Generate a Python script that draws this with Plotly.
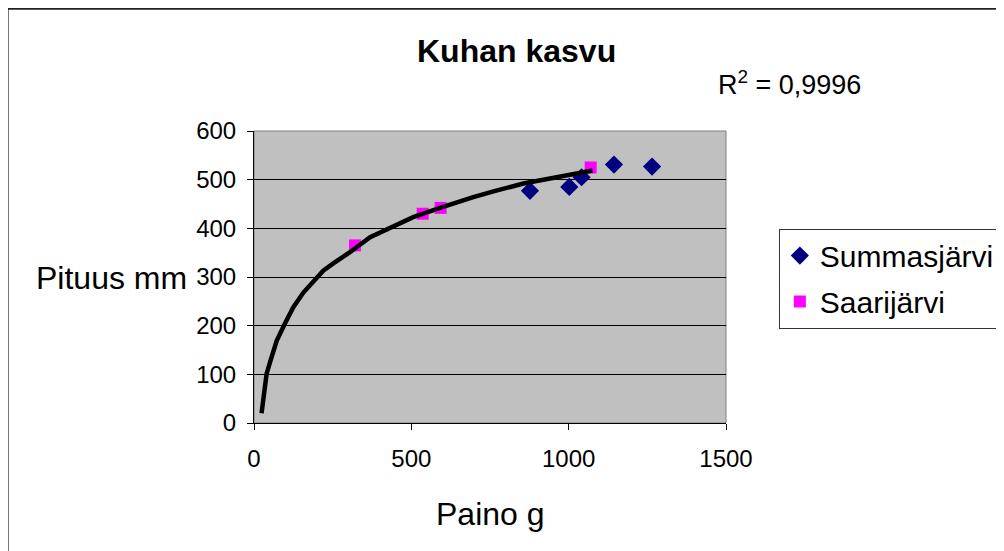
import plotly.graph_objects as go

# Data
summa_x = [877, 1002, 1041, 1144, 1265]
summa_y = [477, 485, 505, 531, 527]
saari_x = [321, 536, 593, 1070]
saari_y = [365, 430, 442, 525]
trend_x = [24, 40, 51, 72, 98, 125, 157, 194, 220, 252, 305, 369, 411, 453, 506, 591, 644, 697, 761, 856, 962, 1076]
trend_y = [20, 101, 125, 169, 204, 238, 268, 293, 313, 328, 351, 382, 394, 407, 423, 442, 454, 464, 476, 492, 505, 519]
x_ticks = [0, 500, 1000, 1500]
y_ticks = [0, 100, 200, 300, 400, 500, 600]

FONT = "Liberation Sans, Arial, sans-serif"

fig = go.Figure()
fig.add_trace(go.Scatter(x=summa_x, y=summa_y, mode="markers", name="Summasjärvi",
                         legendgroup="a",
                         marker=dict(symbol="diamond", size=14, color="#000080")))
fig.add_trace(go.Scatter(x=saari_x, y=saari_y, mode="markers", name="Saarijärvi",
                         legendgroup="b",
                         marker=dict(symbol="square", size=12, color="#FF00FF")))
fig.add_trace(go.Scatter(x=trend_x, y=trend_y, mode="lines", showlegend=False,
                         line=dict(color="black", width=4.5)))

fig.update_layout(
    width=1004, height=551,
    margin=dict(l=246, r=286, t=123, b=136),
    paper_bgcolor="white", plot_bgcolor="#C0C0C0",
    font=dict(family=FONT, color="black", size=24),
    showlegend=True,
    legend=dict(x=1.112, y=0.666, xanchor="left", yanchor="top",
                bgcolor="white", bordercolor="#333333", borderwidth=1,
                font=dict(size=30, family=FONT), traceorder="grouped",
                tracegroupgap=4, entrywidth=200, entrywidthmode="pixels"),
    xaxis=dict(range=[0, 1500], tickvals=x_ticks, showgrid=False, zeroline=False,
               showline=True, linecolor="black", linewidth=1,
               ticks="outside", ticklen=6, tickcolor="black",
               tickfont=dict(size=24), ticklabelstandoff=8),
    yaxis=dict(range=[0, 600], tickvals=y_ticks, showgrid=True, gridcolor="black",
               gridwidth=1, zeroline=False,
               showline=True, linecolor="black", linewidth=1,
               ticks="outside", ticklen=6, tickcolor="black",
               tickfont=dict(size=24), ticklabelstandoff=6),
    shapes=[
        dict(type="rect", xref="paper", yref="paper", x0=0, x1=1, y0=0, y1=1,
             line=dict(color="#808080", width=1), layer="below"),
        dict(type="rect", xref="paper", yref="paper", x0=-0.522, x1=1.62,
             y0=-0.5, y1=1.419, line=dict(color="#222222", width=2)),
    ],
    annotations=[
        dict(text="<b>Kuhan kasvu</b>", xref="paper", yref="paper", x=0.557, y=1.275,
             xanchor="center", yanchor="middle", showarrow=False,
             font=dict(size=32, family=FONT)),
        dict(text="R<sup>2</sup> = 0,9996", xref="paper", yref="paper", x=0.979, y=1.163,
             xanchor="left", yanchor="middle", showarrow=False,
             font=dict(size=27, family=FONT)),
        dict(text="Pituus mm", xref="paper", yref="paper", x=-0.138, y=0.498,
             xanchor="right", yanchor="middle", showarrow=False,
             font=dict(size=32, family=FONT)),
        dict(text="Paino g", xref="paper", yref="paper", x=0.502, y=-0.311,
             xanchor="center", yanchor="middle", showarrow=False,
             font=dict(size=32, family=FONT)),
    ],
)

fig.write_html("out.html")
